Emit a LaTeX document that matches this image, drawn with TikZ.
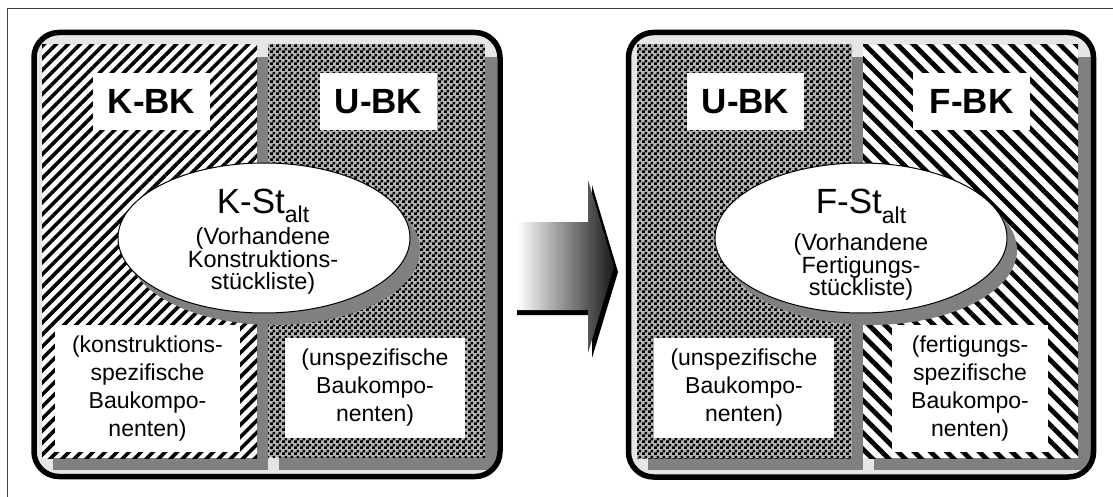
\documentclass[tikz,border=0pt]{standalone}
\usepackage{fontspec}
\setmainfont{Liberation Sans}
\usetikzlibrary{patterns.meta,shapes.geometric}

\definecolor{panelgray}{HTML}{E6E6E6}
\definecolor{shadowgray}{HTML}{808080}
\definecolor{checkground}{HTML}{B4B4B4}

% checkerboard of black squares for the unspecific components
\pgfdeclarepattern{
  name=finechecker,
  type=uncolored,
  bottom left={\pgfpoint{0pt}{0pt}},
  top right={\pgfpoint{6pt}{6pt}},
  tile size={\pgfpoint{6pt}{6pt}},
  code={
    \pgfpathrectangle{\pgfpointorigin}{\pgfpoint{3.2pt}{3.2pt}}
    \pgfpathrectangle{\pgfpoint{3pt}{3pt}}{\pgfpoint{3pt}{3pt}}
    \pgfusepath{fill}
  }
}

\tikzset{
  colshadow/.style={fill=shadowgray},
  hatchK/.style={fill=white, postaction={pattern={Lines[angle=45,distance=8.5pt,line width=3.6pt]}, pattern color=black}},
  hatchF/.style={fill=white, postaction={pattern={Lines[angle=-45,distance=11.5pt,line width=4.8pt]}, pattern color=black}},
  checkfill/.style={fill=checkground, postaction={pattern=finechecker, pattern color=black}},
  boxlabel/.style={fill=white, inner sep=0pt, minimum width=117pt, minimum height=57pt, font=\fontsize{35}{35}\selectfont\bfseries},
  notebox/.style={fill=white, inner sep=0pt, align=center, font=\fontsize{23}{28}\selectfont},
  bubble/.style={ellipse, draw=black, line width=1pt, fill=white, minimum width=292pt, minimum height=150pt, inner sep=0pt},
  bubbleshadow/.style={ellipse, fill=shadowgray, minimum width=292pt, minimum height=150pt, inner sep=0pt},
  bubbletitle/.style={font=\fontsize{35}{35}\selectfont, anchor=base, inner sep=0pt},
  bubblesub/.style={text width=200pt, align=center, inner sep=0pt},
  panelframe/.style={line width=5.5pt, rounded corners=25pt},
}
\newcommand\altsub{\raisebox{-9.5pt}{\fontsize{23}{23}\selectfont alt}}
\newcommand\subsize{\fontsize{23.5}{21.8}\selectfont}

\begin{document}
\begin{tikzpicture}[x=1pt,y=-1pt]
\useasboundingbox (0,0) rectangle (1113,497);

% page frame
\draw[black!75, line width=1pt] (7,497) -- (7,9) -- (1113,9);

% ---------- left panel: design bill of materials ----------
\fill[panelgray, rounded corners=25pt] (34,32.5) rectangle (500,476.5);
\begin{scope}
  \clip[rounded corners=25pt] (34,32.5) rectangle (500,476.5);
  \fill[colshadow] (53,57) rectangle (268,470);
  \path[hatchK] (42,45) rectangle (257,458);
  \fill[colshadow] (279,57) rectangle (497,470);
  \path[checkfill] (268,45) rectangle (485,457);
\end{scope}
\node[boxlabel] (kbk) at (151.5,101.5) {K-BK};
\node[boxlabel] (ubkL) at (378.5,101.5) {U-BK};
\node[notebox, minimum width=185pt, minimum height=127pt] (kspez) at (147.5,388.5)
  {(konstruktions-\\spezifische\\Baukompo-\\nenten)};
\node[notebox, minimum width=180pt, minimum height=100pt] (uspezL) at (375,388)
  {(unspezifische\\Baukompo-\\nenten)};
\node[bubbleshadow] (kstshadow) at (274,250) {};
\node[bubble] (kst) at (264,238) {};
\node[bubbletitle] (ksttitle) at (263,213) {K-St\altsub};
\node[bubblesub] (kstsub) at (263,261) {\subsize (Vorhandene\\Konstruktions-\\stückliste)\par};
\draw[panelframe] (34,32.5) rectangle (500,476.5);

% ---------- transition arrow ----------
\fill[black] (517,227) -- (592,227) -- (592,185) -- (618,272) -- (592,358)
  -- (592,315) -- (517,315) -- cycle;
\shade[left color=white, right color=black!90] (517,222) -- (588,222) -- (588,180)
  -- (614,267) -- (588,353) -- (588,310) -- (517,310) -- cycle;

% ---------- right panel: production bill of materials ----------
\fill[panelgray, rounded corners=25pt] (628.5,32.5) rectangle (1093.5,477);
\begin{scope}
  \clip[rounded corners=25pt] (628.5,32.5) rectangle (1093.5,477);
  \fill[colshadow] (648,57) rectangle (863,470);
  \path[checkfill] (637,45) rectangle (852,458);
  \fill[colshadow] (874,57) rectangle (1091,470);
  \path[hatchF] (863,45) rectangle (1078,458);
\end{scope}
\node[boxlabel] (ubkR) at (745.5,101.5) {U-BK};
\node[boxlabel] (fbk) at (971.5,101.5) {F-BK};
\node[notebox, minimum width=180pt, minimum height=100pt] (uspezR) at (744,388)
  {(unspezifische\\Baukompo-\\nenten)};
\node[notebox, minimum width=156pt, minimum height=127pt] (fspez) at (970,388.5)
  {(fertigungs-\\spezifische\\Baukompo-\\nenten)};
\node[bubbleshadow] (fstshadow) at (871,250) {};
\node[bubble] (fst) at (861,238) {};
\node[bubbletitle] (fsttitle) at (861,214) {F-St\altsub};
\node[bubblesub] (fstsub) at (861,267) {\subsize (Vorhandene\\Fertigungs-\\stückliste)\par};
\draw[panelframe] (628.5,32.5) rectangle (1093.5,477);
\end{tikzpicture}
\end{document}
